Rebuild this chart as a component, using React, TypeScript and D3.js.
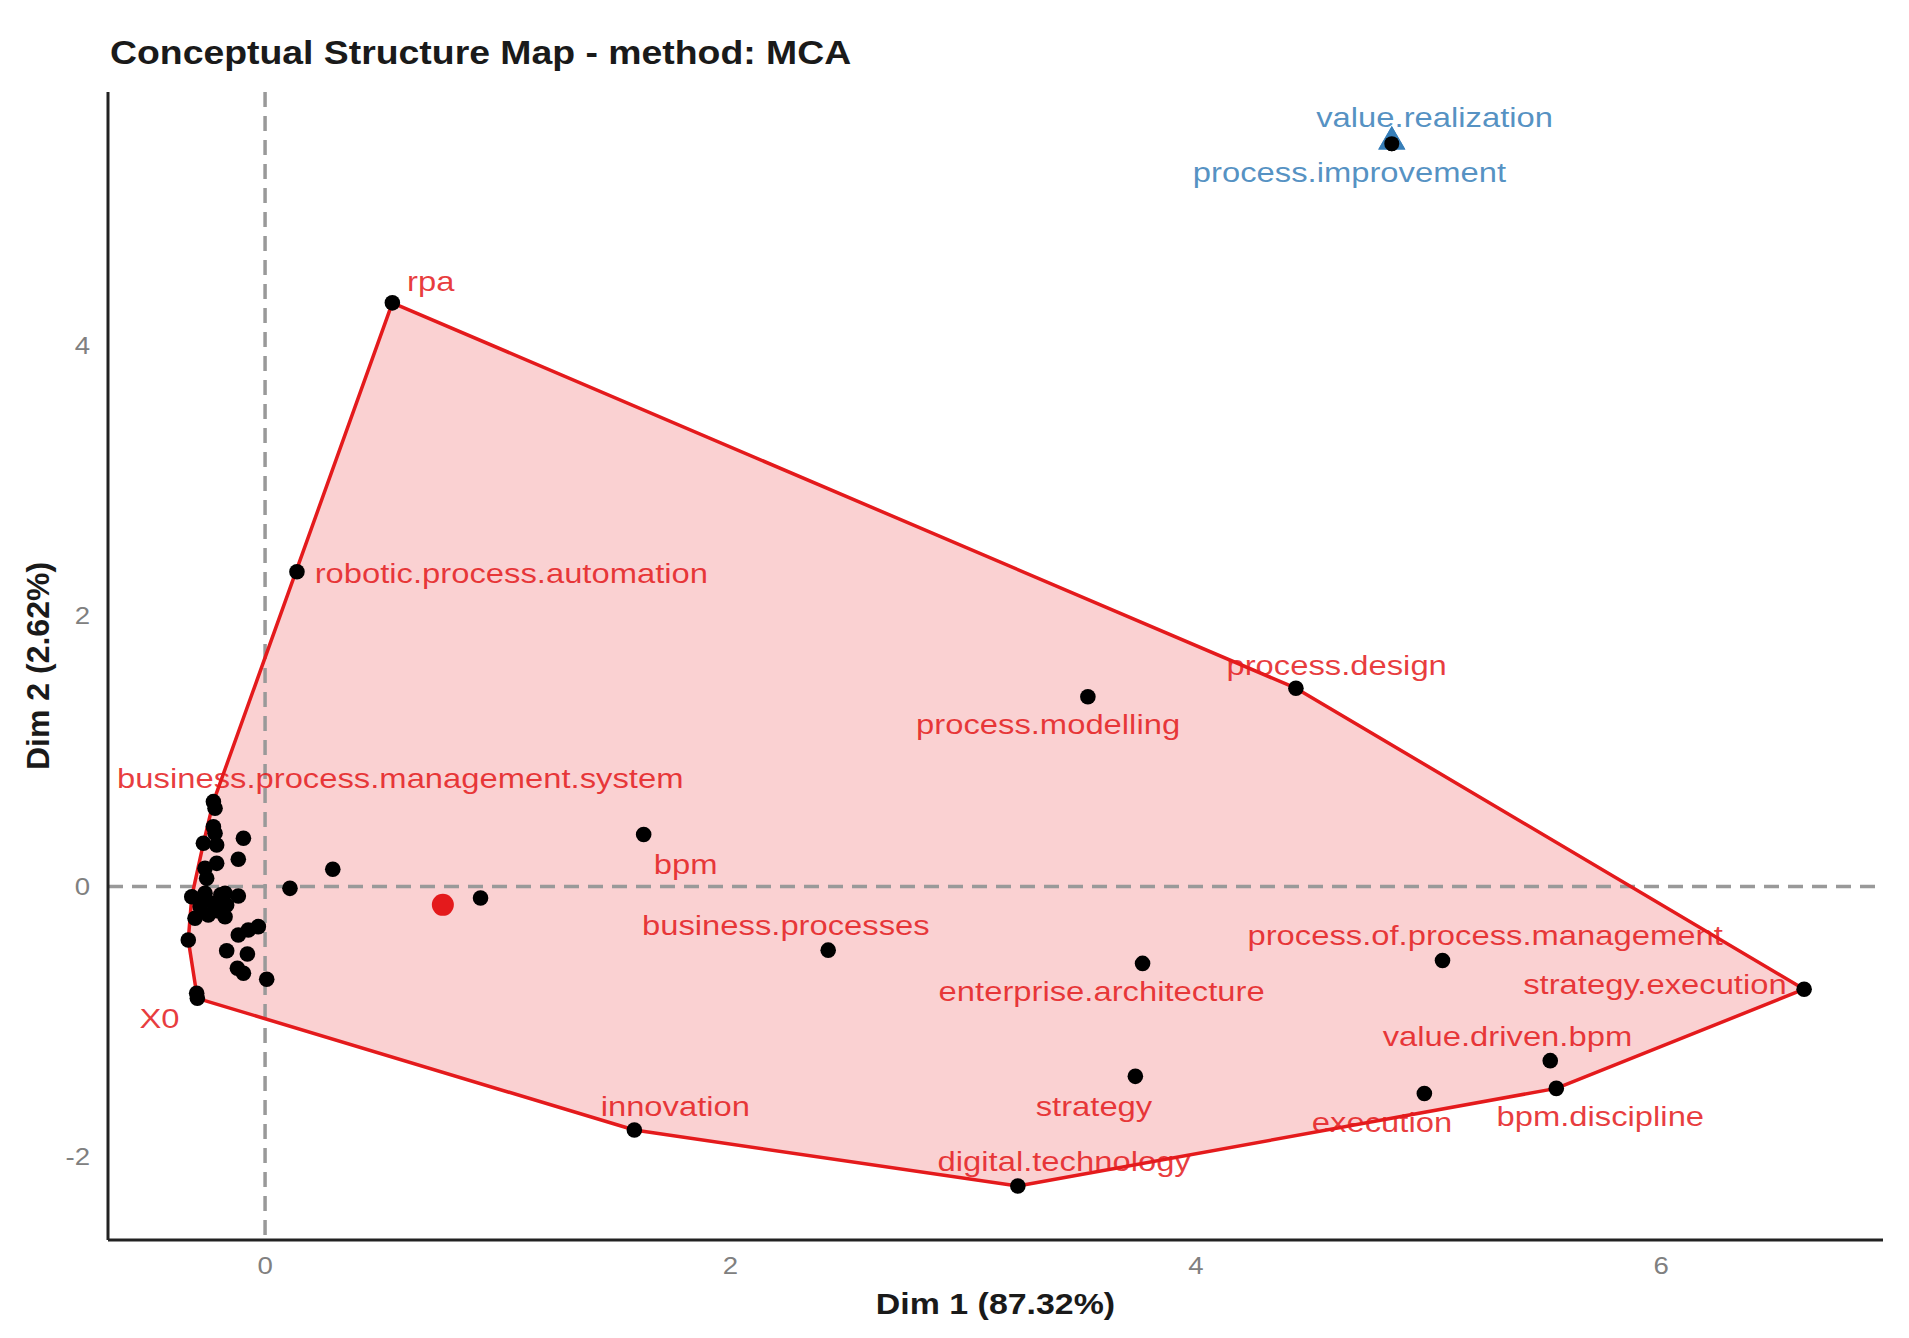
import React from "react";
import * as d3 from "d3";

// Red cluster: labelled words (Dim 1, Dim 2)
const redNames = [
  "rpa", "robotic.process.automation", "business.process.management.system", "bpm",
  "business.processes", "process.modelling", "process.design", "enterprise.architecture",
  "process.of.process.management", "strategy.execution", "value.driven.bpm", "bpm.discipline",
  "execution", "strategy", "digital.technology", "innovation", "X0",
];
const redX = [0.547, 0.137, -0.222, 1.627, 2.42, 3.536, 4.43, 3.771, 5.06, 6.614, 5.523, 5.549, 4.982, 3.74, 3.235, 1.587, -0.291];
const redY = [4.316, 2.328, 0.628, 0.385, -0.47, 1.404, 1.467, -0.568, -0.546, -0.759, -1.287, -1.492, -1.53, -1.403, -2.214, -1.8, -0.826];
// where ggrepel put each label (data units)
const redLabelX = [0.712, 0.213, 0.581, 1.807, 2.238, 3.365, 4.605, 3.595, 5.243, 5.973, 5.339, 5.738, 4.8, 3.562, 3.434, 1.763, -0.454];
const redLabelY = [4.473, 2.319, 0.804, 0.164, -0.284, 1.199, 1.636, -0.773, -0.362, -0.719, -1.11, -1.697, -1.74, -1.624, -2.034, -1.624, -0.977];

// Red cluster: unlabelled words crowded near the origin
const crowdX = [-0.215, -0.222, -0.215, -0.265, -0.208, -0.093, -0.115, -0.208, -0.258, -0.251, -0.315, -0.258, -0.172, -0.115, -0.279, -0.222, -0.165, -0.301, -0.244, -0.172, -0.029, -0.072, -0.115, -0.33, -0.165, -0.076, -0.119, -0.093, 0.007, -0.294, 0.107, 0.291, 0.926, -0.26, -0.2, -0.19];
const crowdY = [0.579, 0.443, 0.394, 0.32, 0.308, 0.357, 0.202, 0.172, 0.135, 0.061, -0.075, -0.05, -0.05, -0.07, -0.149, -0.123, -0.136, -0.234, -0.21, -0.223, -0.296, -0.321, -0.358, -0.395, -0.474, -0.498, -0.604, -0.641, -0.685, -0.789, -0.013, 0.128, -0.084, -0.1, -0.18, -0.06];
const redCentroid = [0.764, -0.135];

// Blue cluster
const blueNames = ["value.realization", "process.improvement"];
const blueX = [4.842, 4.842];
const blueY = [5.508, 5.508];
const blueLabelX = [5.026, 4.66];
const blueLabelY = [5.688, 5.278];

const xTicks = [0, 2, 4, 6];
const yTicks = [-2, 0, 2, 4];
const xDomain = [-0.675, 6.953];
const yDomain = [-2.613, 5.875];

const RED = "#E41A1C";
const BLUE = "#377EB8";
const FONT = "'Liberation Sans', Arial, Helvetica, sans-serif";
const SX = 1.15; // the picture's text is stretched sideways

export default function App() {
  const width = 1909;
  const height = 1338;
  const left = 108, right = 1883, top = 92, bottom = 1240;

  const x = d3.scaleLinear().domain(xDomain).range([left, right]);
  const y = d3.scaleLinear().domain(yDomain).range([bottom, top]);

  const redPts: [number, number][] = [
    ...redX.map((v, i) => [v, redY[i]] as [number, number]),
    ...crowdX.map((v, i) => [v, crowdY[i]] as [number, number]),
  ];
  const hull = d3.polygonHull(redPts.map(([a, b]) => [x(a), y(b)] as [number, number]));
  const hullPath = hull ? "M" + hull.map((p) => p.join(",")).join("L") + "Z" : "";
  const tri = d3.symbol(d3.symbolTriangle, 320)() || "";

  const stretchText = (px: number, py: number) => `translate(${px},${py}) scale(${SX},1)`;

  return (
    <svg width={width} height={height} style={{ position: "absolute", left: 0, top: 0, background: "#fff" }} fontFamily={FONT}>
      <rect width={width} height={height} fill="#fff" />
      <text transform={stretchText(110, 64)} fontSize={32.5} fontWeight="bold" fill="#1a1a1a">
        Conceptual Structure Map - method: MCA
      </text>

      {/* hull */}
      <path d={hullPath} fill={RED} fillOpacity={0.2} stroke="none" />

      {/* reference lines */}
      <line x1={x(0)} x2={x(0)} y1={top} y2={bottom} stroke="#999" strokeWidth={3.5} strokeDasharray="15 9" />
      <line x1={left} x2={right} y1={y(0)} y2={y(0)} stroke="#999" strokeWidth={3.5} strokeDasharray="15 9" />

      <path d={hullPath} fill="none" stroke={RED} strokeWidth={3.5} strokeLinejoin="round" />

      {/* axes */}
      <line x1={left} x2={left} y1={top} y2={bottom} stroke="#222" strokeWidth={3} />
      <line x1={left} x2={right} y1={bottom} y2={bottom} stroke="#222" strokeWidth={3} />
      {xTicks.map((t) => (
        <text key={"xt" + t} transform={stretchText(x(t), 1266)} textAnchor="middle" dominantBaseline="central" fontSize={24} fill="#808080">
          {t}
        </text>
      ))}
      {yTicks.map((t) => (
        <text key={"yt" + t} transform={stretchText(90, y(t))} textAnchor="end" dominantBaseline="central" fontSize={24} fill="#808080">
          {t}
        </text>
      ))}
      <text transform={stretchText((left + right) / 2, 1314)} textAnchor="middle" fontSize={29.5} fontWeight="bold" fill="#1a1a1a">
        Dim 1 (87.32%)
      </text>
      <text transform={`translate(49,${(top + bottom) / 2}) rotate(-90)`} textAnchor="middle" fontSize={32} fontWeight="bold" fill="#1a1a1a">
        Dim 2 (2.62%)
      </text>

      {/* points */}
      {crowdX.map((v, i) => (
        <circle key={"c" + i} cx={x(v)} cy={y(crowdY[i])} r={7.8} fill="#000" />
      ))}
      {redX.map((v, i) => (
        <circle key={"r" + i} cx={x(v)} cy={y(redY[i])} r={7.8} fill="#000" />
      ))}
      <circle cx={x(redCentroid[0])} cy={y(redCentroid[1])} r={11} fill={RED} />

      {blueX.map((v, i) => (
        <g key={"b" + i} transform={`translate(${x(v)},${y(blueY[i])})`}>
          <path d={tri} fill={BLUE} />
          <circle cx={0} cy={2} r={7.5} fill="#000" />
        </g>
      ))}

      {/* labels */}
      {redNames.map((n, i) => (
        <text
          key={"rl" + n}
          transform={stretchText(x(redLabelX[i]), y(redLabelY[i]))}
          textAnchor={n === "robotic.process.automation" ? "start" : "middle"}
          dominantBaseline="central"
          fontSize={28.5}
          fill={RED}
          fillOpacity={0.85}
        >
          {n}
        </text>
      ))}
      {blueNames.map((n, i) => (
        <text
          key={"bl" + n}
          transform={stretchText(x(blueLabelX[i]), y(blueLabelY[i]))}
          textAnchor="middle"
          dominantBaseline="central"
          fontSize={28.5}
          fill={BLUE}
          fillOpacity={0.85}
        >
          {n}
        </text>
      ))}
    </svg>
  );
}
